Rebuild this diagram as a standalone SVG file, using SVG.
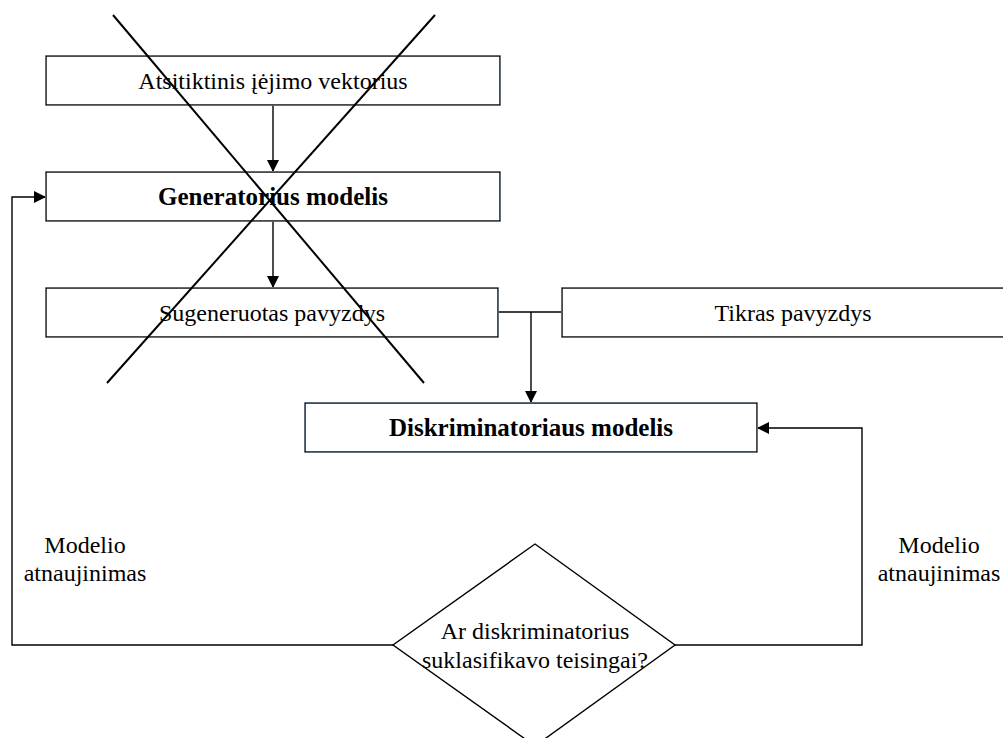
<svg xmlns="http://www.w3.org/2000/svg" width="1003" height="738" viewBox="0 0 1003 738">
  <style>
    .box { fill: #ffffff; stroke: #000000; stroke-width: 1.4; filter: url(#shadow); }
    .lbl { font-family: "Liberation Serif", "Times New Roman", serif; font-size: 24px; fill: #000; text-anchor: middle; }
    .bold { font-weight: bold; font-size: 25px; }
    .wire { fill: none; stroke: #000; stroke-width: 1.4; }
    .cross { fill: none; stroke: #000; stroke-width: 2; }
  </style>
  <defs>
    <marker id="arrow" markerWidth="12" markerHeight="12" refX="11" refY="6" orient="auto" markerUnits="userSpaceOnUse">
      <path d="M0,0 L12,6 L0,12 Z" fill="#000"/>
    </marker>
    <filter id="shadow" x="-5%" y="-20%" width="110%" height="160%">
      <feGaussianBlur in="SourceAlpha" stdDeviation="2"/>
      <feOffset dx="1" dy="3"/>
      <feComponentTransfer><feFuncA type="linear" slope="0.3"/></feComponentTransfer>
      <feFlood flood-color="#9db8d8"/>
      <feComposite operator="in" in2="SourceAlpha"/>
      <feMerge><feMergeNode/><feMergeNode in="SourceGraphic"/></feMerge>
    </filter>
  </defs>
  <rect width="1003" height="738" fill="#ffffff"/>

  <g id="connectors">
    <line class="wire" x1="273" y1="105" x2="273" y2="171" marker-end="url(#arrow)"/>
    <line class="wire" x1="273" y1="221" x2="273" y2="287" marker-end="url(#arrow)"/>
    <line class="wire" x1="498" y1="312" x2="562" y2="312"/>
    <line class="wire" x1="531" y1="312" x2="531" y2="402" marker-end="url(#arrow)"/>
    <polyline class="wire" points="393,645 12,645 12,197 45,197" marker-end="url(#arrow)"/>
    <polyline class="wire" points="675,645 862,645 862,428 758,428" marker-end="url(#arrow)"/>
  </g>

  <g id="node-input">
    <rect class="box" x="46" y="56" width="454" height="49"/>
    <text class="lbl" x="273" y="89">Atsitiktinis įėjimo vektorius</text>
  </g>
  <g id="node-generator">
    <rect class="box" x="46" y="172" width="454" height="49"/>
    <text class="lbl bold" x="273" y="205">Generatorius modelis</text>
  </g>
  <g id="node-generated">
    <rect class="box" x="46" y="288" width="452" height="49"/>
    <text class="lbl" x="272" y="321">Sugeneruotas pavyzdys</text>
  </g>
  <g id="node-real">
    <rect class="box" x="562" y="288" width="445" height="49"/>
    <text class="lbl" x="793" y="321">Tikras pavyzdys</text>
  </g>
  <g id="node-discriminator">
    <rect class="box" x="305" y="403" width="452" height="49"/>
    <text class="lbl bold" x="531" y="436">Diskriminatoriaus modelis</text>
  </g>
  <g id="node-decision">
    <polygon points="535,544 675,645 535,746 393,645" fill="#fff" stroke="#000" stroke-width="1.4"/>
    <text class="lbl" x="535" y="639">Ar diskriminatorius</text>
    <text class="lbl" x="535" y="668">suklasifikavo teisingai?</text>
  </g>
  <g id="label-left">
    <text class="lbl" x="85" y="553">Modelio</text>
    <text class="lbl" x="85" y="581">atnaujinimas</text>
  </g>
  <g id="label-right">
    <text class="lbl" x="939" y="553">Modelio</text>
    <text class="lbl" x="939" y="581">atnaujinimas</text>
  </g>

  <g id="strike">
    <line class="cross" x1="113" y1="15" x2="424" y2="383"/>
    <line class="cross" x1="435" y1="15" x2="107" y2="383"/>
  </g>
</svg>
